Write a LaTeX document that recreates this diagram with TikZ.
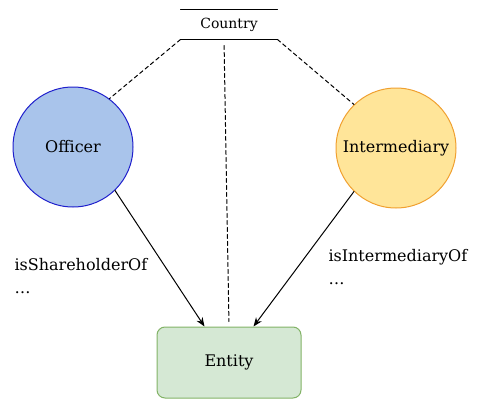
\documentclass[tikz,border=0pt]{standalone}
\usepackage{fontspec}
\setmainfont{DejaVu Serif}
\usetikzlibrary{positioning, arrows.meta}
\definecolor{offfill}{HTML}{A9C4EB}
\definecolor{offline}{HTML}{1F1FCC}
\definecolor{intfill}{HTML}{FFE599}
\definecolor{intline}{HTML}{F0A030}
\definecolor{entfill}{HTML}{D5E8D4}
\definecolor{entline}{HTML}{82B366}
\begin{document}
\begin{tikzpicture}[x=1pt, y=-1pt, line width=1pt, line cap=round, line join=round, >={Stealth[length=9pt, width=7pt]}, font=\fontsize{16}{21}\selectfont]
			\tikzset{entity style/.style={circle, minimum size=120pt, inner sep=0pt},
				link style/.style={dash pattern=on 4pt off 3pt}}
			\useasboundingbox (0,0) rectangle (477,399);
			\node[entity style, draw=offline, fill=offfill] (officer) at (73,147) {Officer};
			\node[entity style, draw=intline, fill=intfill] (intermediary) at (396,148) {Intermediary};
			\node[draw=entline, fill=entfill, rounded corners=8pt, minimum width=144pt, minimum height=71pt] (entity) at (229,362.5) {Entity};
			\node[minimum width=96pt, minimum height=29pt, inner sep=0pt, font=\fontsize{14}{17}\selectfont] (country) at (229,24.5) {Country};
			\draw (country.north west) -- (country.north east);
			\draw (country.south west) -- (country.south east);
			\draw[link style] (country.south west) -- (officer.53);
			\draw[link style] (country.south east) -- (intermediary.134);
			\draw[link style, shorten <=6pt, shorten >=5pt] ([xshift=-5pt]country.south) -- (entity.north);
			\draw[->] (officer.-46) -- ([xshift=48pt]entity.north west);
			\draw[->] (intermediary.-134) -- ([xshift=-48pt]entity.north east);
			\node[anchor=north west, align=left, inner sep=0pt] (lblshare) at (14,258) {isShareholderOf\\[2pt]\dots};
			\node[anchor=north west, align=left, inner sep=0pt] (lblinter) at (328,249) {isIntermediaryOf\\[2pt]\dots};
		\end{tikzpicture}
\end{document}
